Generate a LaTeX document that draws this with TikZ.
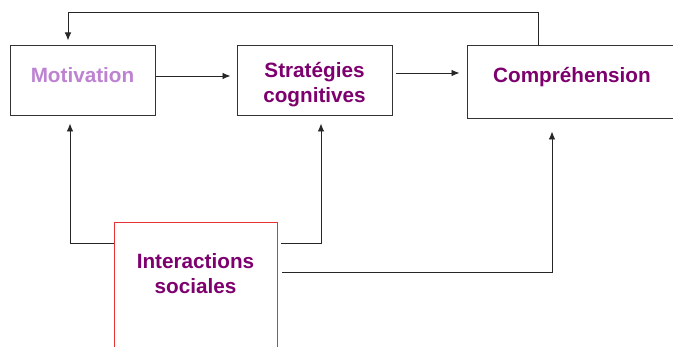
\documentclass[tikz,border=0pt]{standalone}
\usepackage{fontspec}
\usetikzlibrary{arrows.meta}
\setmainfont{Liberation Sans}
\definecolor{plum}{RGB}{125,0,110}
\definecolor{lilac}{RGB}{190,130,210}
\definecolor{boxred}{RGB}{230,50,50}
\begin{document}
\begin{tikzpicture}[>={Latex[length=8pt, width=6.5pt]}, x=1pt, y=-1pt,
		box/.style={draw=black!80, line width=1pt, minimum width=#1},
		lbl/.style={font=\bfseries\fontsize{20.7}{24.8}\selectfont, text=plum, align=center, inner sep=0pt},
		link/.style={->, draw=black!85, line width=0.9pt}]
	\useasboundingbox[fill=white] (0,0) rectangle (673,347);

	\node[box=145pt, minimum height=70pt] (mot) at (82.5,81) {};
	\node[box=155pt, minimum height=70pt] (strat) at (314.5,81) {};
	\node[box=210pt, minimum height=73pt] (comp) at (572,82.5) {};
	\node[box=163pt, minimum height=138pt, draw=boxred, line width=0.8pt]
	(inter) at (195.5,291) {};

	\node[lbl, text=lilac, anchor=base] (motT) at (82.5,82.5) {Motivation};
	\node[lbl] (stratT) at (314.5,84.5) {Stratégies\\cognitives};
	\node[lbl, anchor=base] (compT) at (572,82.5) {Compréhension};
	\node[lbl] (interT) at (195.5,273.5) {Interactions\\sociales};

	\draw[link, shorten >=6pt] ([yshift=5pt]mot.east) -- ([yshift=5pt]strat.west);

	\coordinate (sc) at ([yshift=8pt]strat.east);
	\draw[link, shorten <=3pt, shorten >=7pt] (sc) -- (comp.west |- sc);

	\coordinate (top) at (300,12.5);
	\draw[link, shorten >=5pt] ([xshift=-34pt]comp.north) |- (top)
	-| ([xshift=-14.5pt]mot.north);

	\draw[link, shorten >=7pt] ([yshift=48pt]inter.west) -| ([xshift=-12.5pt]mot.south);
	\draw[link, shorten <=4pt, shorten >=7pt] ([yshift=48pt]inter.east)
	-| ([xshift=6.5pt]strat.south);
	\draw[link, shorten <=5pt, shorten >=12pt] ([yshift=19pt]inter.east)
	-| ([xshift=-20pt]comp.south);
\end{tikzpicture}
\end{document}
